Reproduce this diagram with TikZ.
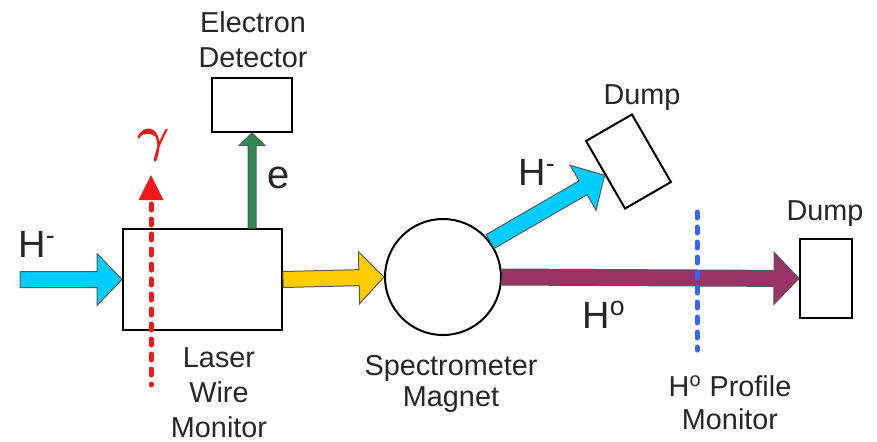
\documentclass[tikz,border=0pt]{standalone}
\usepackage{amsmath}
\usepackage{fontspec}
\setmainfont{Liberation Sans}
\usepackage{tikz}
\usetikzlibrary{positioning,arrows.meta,calc}
\usepackage{xcolor}
\definecolor{beamcyan}{HTML}{00CCFF}
\definecolor{beamyellow}{HTML}{FFCC00}
\definecolor{beamplum}{HTML}{993366}
\definecolor{beamgreen}{HTML}{2E8B57}
\definecolor{laserred}{HTML}{F01818}
\definecolor{monblue}{HTML}{3366FF}

% fat beam arrow: [size factor]{fill}{from}{to}
\newcommand{\beamarrow}[4][1]{%
  \pgfmathsetlengthmacro{\bsw}{4pt*#1}%
  \pgfmathsetlengthmacro{\bhw}{13pt*#1}%
  \pgfmathsetlengthmacro{\bhl}{12.5pt*#1}%
  \filldraw[draw=black!65,line width=0.5pt,fill=#2]
    ($(#3)!\bsw!90:(#4)$) -- ($(#4)!\bhl!(#3)!\bsw!90:(#4)$)
    -- ($(#4)!\bhl!(#3)!\bhw!90:(#4)$) -- (#4)
    -- ($(#4)!\bhl!(#3)!\bhw!-90:(#4)$) -- ($(#4)!\bhl!(#3)!\bsw!-90:(#4)$)
    -- ($(#3)!\bsw!-90:(#4)$) -- cycle;
}

\tikzset{
  box/.style={draw,line width=1pt,inner sep=0pt,fill=white},
  lbl/.style={font=\fontsize{14.4}{17.5}\selectfont,align=center,text=black!85,inner sep=0pt},
  big/.style={font=\fontsize{19}{22}\selectfont,text=black!85,inner sep=0pt},
  dotline/.style={line width=2.5pt,dash pattern=on 3pt off 4.5pt,line cap=round},
}

\begin{document}
\begin{tikzpicture}[x=0.5pt,y=-0.5pt]
\useasboundingbox (0,0) rectangle (877,441);
% boxes and magnet
\node[box,minimum width=79.5pt,minimum height=50.5pt] (lwm) at (202.5,279.5) {};
\node[box,minimum width=40pt,minimum height=27pt] (det) at (252,105) {};
\node[box,circle,minimum size=58pt] (mag) at (443,277) {};
\node[box,minimum width=26pt,minimum height=39.5pt] (dumpR) at (826,278.5) {};
\node[box,minimum width=26.5pt,minimum height=39pt,rotate=30] (dumpT) at (628.5,161.5) {};
\coordinate (hin) at (20,279.5);
\coordinate (gbot) at (151,385);
\coordinate (gtop) at (151,175);
\coordinate (pmtop) at (697,212);
\coordinate (pmbot) at (697,350);

% beams
\beamarrow{beamcyan}{hin}{lwm.west}
\beamarrow{beamyellow}{lwm.east}{mag.west}
\beamarrow{beamplum}{mag.east}{dumpR.west}
\beamarrow{beamcyan}{mag.37}{dumpT.west}
\beamarrow[0.5]{beamgreen}{det.south |- lwm.north}{det.south}

% laser and profile monitor
\draw[laserred,dotline] ($(gtop)+(0,29)$) -- (gbot);
\fill[laserred] (gtop) -- ++(-12.5,25) -- ++(25,0) -- cycle;
\draw[monblue,dotline] (pmtop) -- (pmbot);

% labels
\node[lbl] (detlbl) at (253,40) {Electron\\Detector};
\node[lbl] (lwmlbl) at (219,393) {Laser\\Wire\\Monitor};
\node[lbl,font=\fontsize{14.4}{15.5}\selectfont] (maglbl) at (451,383.5) {Spectrometer\\Magnet};
\node[lbl,anchor=base] (dumpTlbl) at (642,104) {Dump};
\node[lbl,anchor=base] (dumpRlbl) at (825,220) {Dump};
\node[lbl,font=\fontsize{14.4}{16.5}\selectfont] (pmlbl) at (730,402.5) {H\textsuperscript{o} Profile\\Monitor};
\node[big,anchor=base west] (hminus) at (18,257) {H\textsuperscript{-}};
\node[big,anchor=base west] (hminus2) at (518,185) {H\textsuperscript{-}};
\node[big,anchor=base west] (hzero) at (582,328) {H\textsuperscript{o}};
\node[big,anchor=base west,font=\fontsize{20}{22}\selectfont] (elbl) at (267,188) {e};
\node[text=laserred,font=\fontsize{25}{28}\selectfont,inner sep=0pt] (glbl) at (154,145) {$\boldsymbol{\gamma}$};
\end{tikzpicture}
\end{document}
